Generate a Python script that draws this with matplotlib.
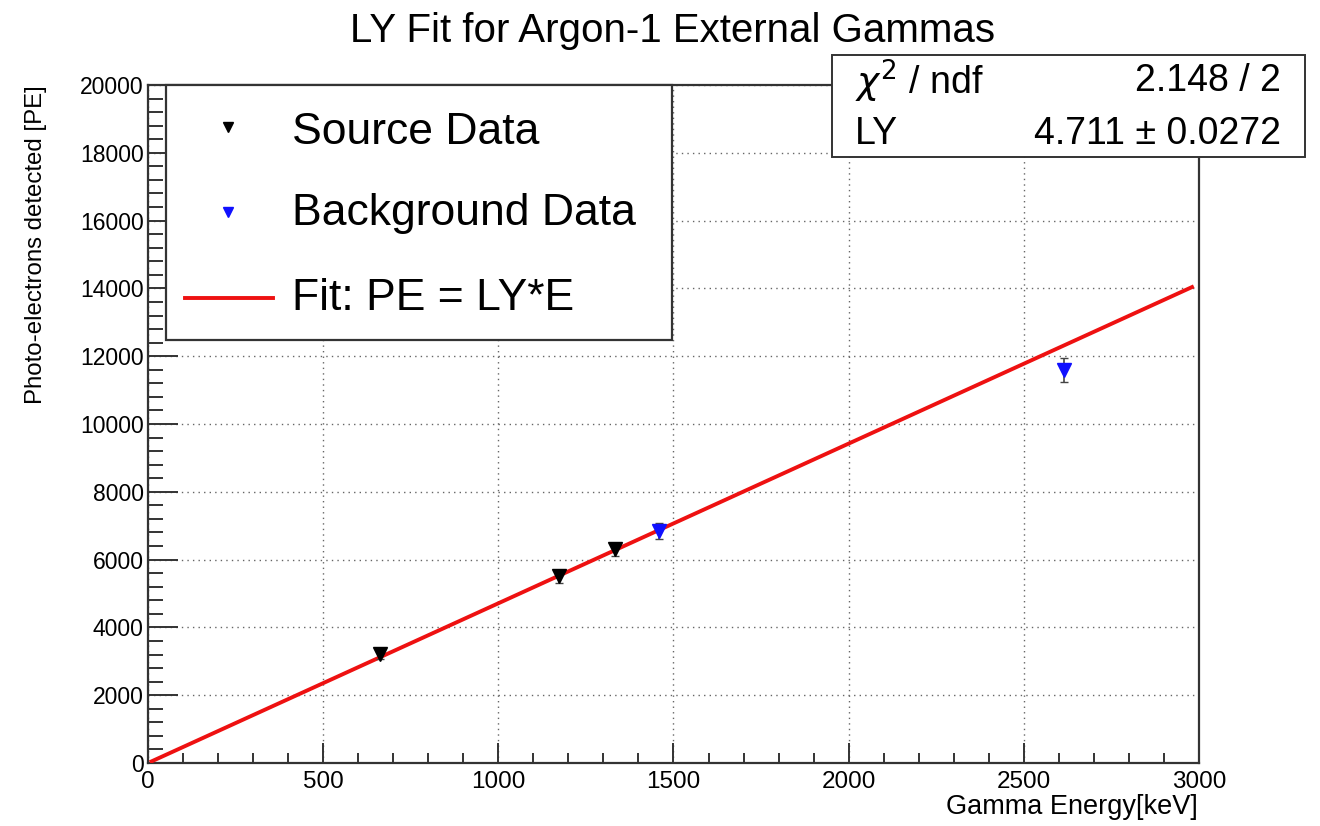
import matplotlib
matplotlib.use("Agg")
import matplotlib.pyplot as plt
import numpy as np
from matplotlib.patches import Rectangle
from matplotlib.lines import Line2D
from matplotlib.ticker import MultipleLocator

# ---- data ----
source_energy = [662, 1173, 1332]
source_pe = [3220, 5503, 6300]
source_err = [150, 200, 200]
bkg_energy = [1460, 2615]
bkg_pe = [6834, 11600]
bkg_err = [240, 360]
ly_value = 4.711
fit_range = [10, 2980]

title = "LY Fit for Argon-1 External Gammas"
xlabel = "Gamma Energy[keV]"
ylabel = "Photo-electrons detected [PE]"
legend_labels = ["Source Data", "Background Data", "Fit: PE = LY*E"]
stats_rows = [(r"$\chi^{2}$ / ndf", "2.148 / 2"), ("LY", "4.711 ± 0.0272")]

plt.rcParams['font.family'] = ['Liberation Sans', 'DejaVu Sans']
W, H = 1320, 826
fig = plt.figure(figsize=(W / 100, H / 100), dpi=100)

def fx(px):
    return px / W

def fy(py):
    return 1 - py / H

L, R, T, B = 148, 1199, 85, 763
ax = fig.add_axes([fx(L), fy(B), fx(R) - fx(L), fy(T) - fy(B)])
ax.set_xlim(0, 3000)
ax.set_ylim(0, 20000)

frame_col = '#333333'
for s in ax.spines.values():
    s.set_color(frame_col)
    s.set_linewidth(1.6)

ax.xaxis.set_major_locator(MultipleLocator(500))
ax.xaxis.set_minor_locator(MultipleLocator(100))
ax.yaxis.set_major_locator(MultipleLocator(2000))
ax.yaxis.set_minor_locator(MultipleLocator(400))
ax.tick_params(axis='both', which='both', direction='in', top=False, right=False, color=frame_col, width=1.4)
ax.tick_params(axis='y', which='major', length=21.6, pad=3, labelsize=16.5)
ax.tick_params(axis='y', which='minor', length=10.8)
ax.tick_params(axis='x', which='major', length=14.4, pad=6, labelsize=17.5)
ax.tick_params(axis='x', which='minor', length=7.2)

ax.grid(True, which='major', linestyle=(0, (1, 3)), color='#666666', linewidth=1.0)
ax.set_axisbelow(True)

# fit line
xf = np.linspace(fit_range[0], fit_range[1], 200)
ax.plot(xf, ly_value * xf, color='#ee1111', lw=2.8, zorder=3)

# data
ax.errorbar(source_energy, source_pe, yerr=source_err, fmt='v', color='black', ms=10.5,
            ecolor='#444444', elinewidth=1.2, capsize=3, zorder=4)
ax.errorbar(bkg_energy, bkg_pe, yerr=bkg_err, fmt='v', color='#1010ff', ms=10.5,
            ecolor='#444444', elinewidth=1.2, capsize=3, zorder=4)

# title / labels
fig.text(fx(673), fy(31), title, ha='center', va='center', fontsize=29)
fig.text(fx(1198), fy(807), xlabel, ha='right', va='center', fontsize=19.5)
fig.text(fx(36), fy(85), ylabel, ha='center', va='top', rotation=90, fontsize=17.3)

# legend (manual)
fig.add_artist(Rectangle((fx(166), fy(340)), fx(672) - fx(166), fy(85) - fy(340),
                         transform=fig.transFigure, facecolor='white', edgecolor=frame_col, lw=1.6, zorder=5))
leg_rows = [127, 212, 298]
fig.add_artist(Line2D([fx(228)], [fy(leg_rows[0])], marker='v', color='black', ms=7,
                      transform=fig.transFigure, zorder=6))
fig.add_artist(Line2D([fx(228)], [fy(leg_rows[1])], marker='v', color='#1010ff', ms=7,
                      transform=fig.transFigure, zorder=6))
fig.add_artist(Line2D([fx(185), fx(273)], [fy(leg_rows[2])] * 2, color='#ee1111', lw=2.8,
                      transform=fig.transFigure, zorder=6))
for lab, yy in zip(legend_labels, [133, 213, 298]):
    fig.text(fx(292), fy(yy), lab, ha='left', va='center', fontsize=32, zorder=7)

# stats box
fig.add_artist(Rectangle((fx(832), fy(157)), fx(1305) - fx(832), fy(55) - fy(157),
                         transform=fig.transFigure, facecolor='white', edgecolor=frame_col, lw=1.4, zorder=5))
for (lab, val), yy in zip(stats_rows, [81, 134]):
    fig.text(fx(855), fy(yy), lab, ha='left', va='center', fontsize=27, zorder=7)
    fig.text(fx(1281), fy(yy), val, ha='right', va='center', fontsize=27, zorder=7)

fig.savefig("out.png", dpi=100)
